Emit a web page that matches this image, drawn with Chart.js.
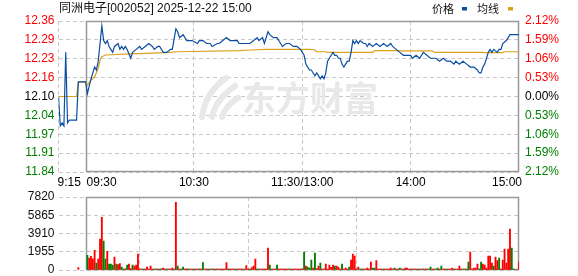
<!DOCTYPE html>
<html><head><meta charset="utf-8">
<script src="https://cdn.jsdelivr.net/npm/chart.js@4"></script>
<style>
html,body{margin:0;padding:0;background:#fff;}
#wrap{position:relative;width:578px;height:276px;overflow:hidden;}
#c1{position:absolute;left:0;top:0;}
#c2{position:absolute;left:0;top:184px;}
</style></head><body>
<div id="wrap"><canvas id="c1" width="578" height="192"></canvas><canvas id="c2" width="578" height="100"></canvas></div>
<script>
// ---------------- data ----------------
const titleText = '同洲电子[002052] 2025-12-22 15:00';
const legendLabels = ['价格', '均线'];
const watermarkText = '东方财富';
const preClose = 12.10;
const priceMin = 11.8435;
const priceMax = 12.3565;
const priceTickLabels = ['12.36','12.29','12.23','12.16','12.10','12.04','11.97','11.91','11.84'];
const pctTickLabels = ['2.12%','1.59%','1.06%','0.53%','0.00%','0.53%','1.06%','1.59%','2.12%'];
const volMax = 7820;
const volTickLabels = ['7820','5865','3910','1955','0'];
// minutes on the trading clock counted from 9:15 (lunch break removed)
const timeTicks = [0, 15, 75, 135, 195, 255];
const timeLabels = ['9:15', '09:30', '10:30', '11:30/13:00', '14:00', '15:00'];

const priceMinutes = [
  0,1,2,3,4,5,6,10,11,15,
  16,18,20,21,22,23,24,25,26,27,
  28,29,30,31,33,34,35,36,37,38,
  40,41,43,45,46,48,50,52,53,55,
  56,58,60,62,63,65,66,67,69,71,
  73,74,77,78,80,82,84,85,88,89,
  91,93,95,97,99,100,103,106,108,110,
  111,113,114,116,117,119,121,123,124,126,
  128,130,132,134,135,136,137,138,139,140,
  141,142,143,144,145,146,147,148,149,150,
  151,152,153,154,155,156,157,158,159,160,
  161,162,163,164,165,166,167,169,170,171,
  172,174,176,178,180,182,184,185,187,189,
  191,193,195,196,198,200,202,204,206,208,
  209,211,213,215,217,219,220,222,224,226,
  228,230,232,233,234,235,236,237,238,239,
  240,241,243,244,245,246,248,249,250,255
];
const prices = [
  12.10,12.00,12.01,12.00,12.25,12.01,12.02,12.02,12.15,12.15,
  12.11,12.16,12.20,12.19,12.22,12.28,12.34,12.29,12.28,12.29,
  12.27,12.26,12.25,12.27,12.28,12.26,12.27,12.26,12.27,12.26,
  12.23,12.25,12.26,12.27,12.26,12.27,12.28,12.27,12.26,12.27,
  12.27,12.25,12.25,12.26,12.26,12.33,12.32,12.30,12.31,12.29,
  12.29,12.29,12.28,12.29,12.29,12.28,12.28,12.27,12.28,12.28,
  12.29,12.30,12.29,12.29,12.29,12.28,12.28,12.28,12.29,12.30,
  12.29,12.30,12.28,12.32,12.31,12.30,12.30,12.28,12.27,12.28,
  12.28,12.27,12.27,12.26,12.25,12.24,12.21,12.20,12.19,12.19,
  12.18,12.17,12.18,12.17,12.16,12.17,12.16,12.18,12.22,12.23,
  12.24,12.25,12.24,12.24,12.23,12.23,12.21,12.20,12.21,12.22,
  12.22,12.25,12.29,12.28,12.29,12.28,12.29,12.28,12.28,12.27,
  12.28,12.27,12.28,12.27,12.28,12.27,12.28,12.27,12.26,12.25,
  12.24,12.24,12.24,12.23,12.24,12.23,12.25,12.24,12.23,12.23,
  12.23,12.22,12.23,12.22,12.22,12.21,12.22,12.21,12.22,12.21,
  12.20,12.20,12.19,12.18,12.18,12.20,12.21,12.23,12.25,12.26,
  12.25,12.26,12.25,12.26,12.26,12.28,12.29,12.30,12.31,12.31
];
const avgMinutes = [0,10,11,15,16,18,20,22,23,24,26,40,60,66,100,106,115,139,142,143,148,149,174,175,187,188,207,208,235,236,246,247,255];
const avgPrices = [12.100,12.100,12.150,12.150,12.139,12.156,12.167,12.196,12.224,12.235,12.241,
  12.245,12.249,12.252,12.256,12.258,12.260,12.260,12.258,12.252,12.252,12.250,
  12.250,12.256,12.256,12.255,12.255,12.250,12.250,12.249,12.249,12.252,12.252];

const auctionMinute = 11;
const auctionVolume = 250;
const volStart = 16; // first minute bar (9:31)
const volumes = [
  1565,1280,1458,1209,2098,747,1174,3308,5655,3094,
  1174,1992,640,640,534,1387,640,569,676,320,
  107,120,534,640,142,534,427,534,1707,107,
  100,107,90,320,100,427,107,100,107,110,
  107,120,213,100,107,110,107,213,100,7255,
  427,107,110,320,107,120,100,107,110,100,
  107,100,110,107,782,100,107,110,100,107,
  100,110,107,100,107,110,100,782,107,100,
  110,107,100,107,100,110,107,100,462,107,
  100,250,427,1174,107,100,110,107,100,110,
  2347,534,107,100,110,534,107,100,110,107,
  100,107,110,100,107,110,100,107,110,120,
  1920,427,320,213,1067,213,1814,142,427,747,
  107,100,640,107,534,285,534,427,427,320,
  107,640,107,213,107,320,1067,1707,1494,107,
  320,107,107,107,107,213,107,853,213,213,
  1000,107,107,100,107,100,107,100,213,107,
  213,100,107,213,100,107,213,213,100,107,
  100,107,100,110,107,100,107,100,110,107,
  320,100,107,100,213,107,427,100,107,100,
  107,100,213,107,100,107,427,100,107,110,
  100,853,1920,107,213,213,640,107,853,640,
  534,213,1494,1494,747,427,1387,1000,1280,107,
  1067,2240,747,2240,4374,2347,107,0,0,853
];
// r = up (red), g = down (green)
const volDirs = (
  'grrrrgrrrg grgggrgrrg grgrrgrrrr rgrrrrrgrg rgrrgrrrgr grggrrgrrg ' +
  'rrgrgrrgrg rrgrrrrrgr rrgrrrrgrr grrrggrrrr rggrrgrrrr rrgrrrrrrr ' +
  'grgggrgrrg rrrrrrrgrr rgrrrgrrrr rggrrrrrgg rrrrgrrrrr grrgrgrrrr ' +
  'grrgrrgrrg grrggrgrrg rrrgrrrrgr ggrrrrrggr rrrrrgrrgr rrrrrggrrr'
).replace(/ /g, '');

// ---------------- styles ----------------
const RED = '#ff0000', GREEN = '#008000', BLUE = '#0a4ea3', GOLD = '#dba11c';
const GRID = '#c8c8c8', FRAME = '#999999';
const FONT = 'Arial, "Liberation Sans", "Noto Sans CJK SC", sans-serif';
const CJK = '"Noto Sans CJK SC", Arial, sans-serif';
const labelAlign = ['left', 'left', 'center', 'center', 'center', 'right'];
const labelShift = [-1, 1, 0, 0, 0, 3];

function tickColorFromTop(i) { return i < 4 ? RED : (i === 4 ? '#000' : GREEN); }
const nP = priceTickLabels.length;
function priceTickValues() {
  const out = [];
  for (let i = 0; i < nP; i++) out.push(priceMin + i * (priceMax - priceMin) / (nP - 1));
  return out;
}

function framePlugin(drawExtras) {
  return {
    id: 'frame' + (drawExtras ? 'A' : 'B'),
    beforeDatasetsDraw(chart) {
      const { ctx, chartArea: a, scales: { x } } = chart;
      ctx.save();
      if (drawExtras) {
        // watermark
        ctx.fillStyle = '#e8e8e8';
        ctx.strokeStyle = '#e8e8e8';
        ctx.lineCap = 'round';
        ctx.lineWidth = 6;
        const blades = [[202,117,205,93,226,78],[212,117,216,99,235,86],[222,117,226,105,238,98]];
        blades.forEach(b => { ctx.beginPath(); ctx.moveTo(b[0], b[1]); ctx.quadraticCurveTo(b[2], b[3], b[4], b[5]); ctx.stroke(); });
        ctx.font = 'bold 34px ' + CJK;
        ctx.textAlign = 'left';
        ctx.textBaseline = 'middle';
        ctx.fillText(watermarkText, 242, 98);
      }
      const l = Math.round(x.getPixelForValue(timeTicks[1])) + 0.5;
      const r = Math.round(x.getPixelForValue(timeTicks[timeTicks.length - 1])) - 0.5;
      const t = Math.round(a.top) + 0.5, b = Math.round(a.bottom) - 0.5;
      ctx.strokeStyle = FRAME;
      ctx.lineWidth = 1.5;
      ctx.setLineDash([]);
      ctx.strokeRect(l, t, r - l, b - t);
      ctx.restore();
    },
    afterDraw(chart) {
      if (!drawExtras) return;
      const { ctx, chartArea: a, scales: { x } } = chart;
      ctx.save();
      ctx.fillStyle = '#000';
      ctx.font = '12px ' + FONT;
      ctx.textBaseline = 'middle';
      timeTicks.forEach((v, i) => {
        ctx.textAlign = labelAlign[i];
        ctx.fillText(timeLabels[i], x.getPixelForValue(v) + labelShift[i], a.bottom + 11);
      });
      // title
      ctx.textAlign = 'left';
      ctx.font = '12px ' + FONT;
      ctx.fillStyle = '#111';
      ctx.fillText(titleText, 59, 9);
      // legend
      ctx.font = '11px ' + CJK;
      ctx.fillText(legendLabels[0], 432, 9);
      ctx.fillStyle = BLUE; ctx.fillRect(462, 7, 5, 3.5);
      ctx.fillStyle = '#111';
      ctx.fillText(legendLabels[1], 477, 9);
      ctx.fillStyle = GOLD; ctx.fillRect(508, 7, 5, 3.5);
      ctx.restore();
    }
  };
}

const xGrid = {
  color: c => (c.tick && (c.tick.value === timeTicks[1] || c.tick.value === timeTicks[timeTicks.length - 1])) ? 'rgba(0,0,0,0)' : GRID,
  drawTicks: false, lineWidth: 1
};

// ---------------- price chart ----------------
new Chart(document.getElementById('c1'), {
  type: 'line',
  data: {
    datasets: [
      { data: avgMinutes.map((m, i) => ({ x: m, y: avgPrices[i] })), borderColor: GOLD, borderWidth: 1.2, pointRadius: 0, tension: 0, order: 2 },
      { data: priceMinutes.map((m, i) => ({ x: m, y: prices[i] })), borderColor: BLUE, borderWidth: 1.2, pointRadius: 0, tension: 0, order: 1 }
    ]
  },
  options: {
    responsive: false, animation: false, devicePixelRatio: 1,
    layout: { padding: { top: 21, bottom: 20, left: 0, right: 0 } },
    plugins: { legend: { display: false }, tooltip: { enabled: false } },
    scales: {
      x: {
        type: 'linear', min: timeTicks[0], max: timeTicks[timeTicks.length - 1],
        afterBuildTicks: s => { s.ticks = timeTicks.map(v => ({ value: v })); },
        ticks: { display: false }, grid: xGrid, border: { display: false, dash: [4, 3] }
      },
      y: {
        position: 'left', min: priceMin, max: priceMax,
        afterBuildTicks: s => { s.ticks = priceTickValues().map(v => ({ value: v })); },
        afterFit: s => { s.width = 58.5; },
        ticks: {
          autoSkip: false,
          callback: (v, i) => priceTickLabels[nP - 1 - i],
          color: c => tickColorFromTop(nP - 1 - c.index),
          font: { size: 12, family: FONT }, padding: 4
        },
        grid: { color: GRID, drawTicks: false, lineWidth: 1 },
        border: { display: false, dash: [4, 3] }
      },
      y2: {
        position: 'right', min: priceMin, max: priceMax,
        afterBuildTicks: s => { s.ticks = priceTickValues().map(v => ({ value: v })); },
        afterFit: s => { s.width = 59; },
        ticks: {
          autoSkip: false,
          callback: (v, i) => pctTickLabels[nP - 1 - i],
          color: c => tickColorFromTop(nP - 1 - c.index),
          font: { size: 12, family: FONT }, padding: 6
        },
        grid: { display: false, drawTicks: false },
        border: { display: false }
      }
    }
  },
  plugins: [framePlugin(true)]
});

// ---------------- volume chart ----------------
const volPoints = [{ x: auctionMinute, y: auctionVolume }];
const volColors = [RED];
volumes.forEach((v, i) => {
  volPoints.push({ x: volStart + i, y: v });
  volColors.push(volDirs[i] === 'g' ? GREEN : RED);
});
const nV = volTickLabels.length;

new Chart(document.getElementById('c2'), {
  type: 'bar',
  data: { datasets: [{ data: volPoints, backgroundColor: volColors, borderWidth: 0, barThickness: 1.2 }] },
  options: {
    responsive: false, animation: false, devicePixelRatio: 1,
    layout: { padding: { top: 13, bottom: 14, left: 0, right: 59 } },
    plugins: { legend: { display: false }, tooltip: { enabled: false } },
    scales: {
      x: {
        type: 'linear', offset: false, min: timeTicks[0], max: timeTicks[timeTicks.length - 1],
        afterBuildTicks: s => { s.ticks = timeTicks.map(v => ({ value: v })); },
        ticks: { display: false }, grid: xGrid, border: { display: false, dash: [4, 3] }
      },
      y: {
        min: 0, max: volMax,
        afterBuildTicks: s => { const t = []; for (let i = 0; i < nV; i++) t.push({ value: i * volMax / (nV - 1) }); s.ticks = t; },
        afterFit: s => { s.width = 58.5; },
        ticks: {
          autoSkip: false,
          callback: (v, i) => volTickLabels[nV - 1 - i],
          color: '#111', font: { size: 12, family: FONT }, padding: 4
        },
        grid: { color: GRID, drawTicks: false, lineWidth: 1 },
        border: { display: false, dash: [4, 3] }
      }
    }
  },
  plugins: [framePlugin(false)]
});
</script>
</body></html>
